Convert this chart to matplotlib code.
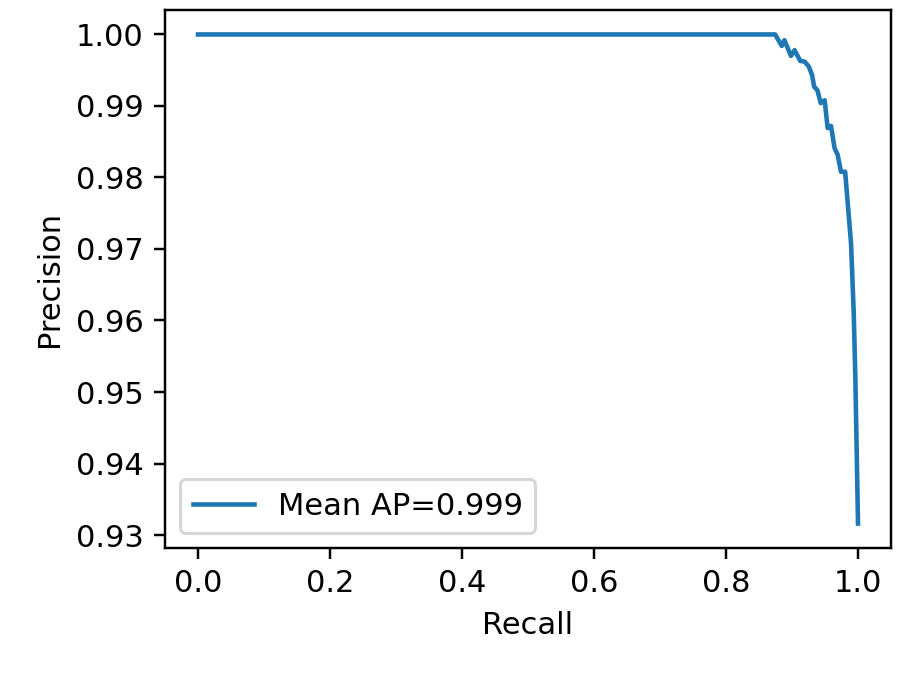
import matplotlib
matplotlib.use("Agg")
import matplotlib.pyplot as plt

# precision-recall curve points
recall = [0.0, 0.874, 0.884, 0.888, 0.898, 0.9035, 0.912, 0.9187, 0.925, 0.930,
          0.933, 0.938, 0.943, 0.949, 0.9535, 0.9586, 0.964, 0.9686, 0.9737,
          0.980, 0.9889, 0.993, 0.9955, 0.9995]
precision = [1.0, 1.0, 0.9984, 0.9992, 0.9970, 0.9978, 0.9963, 0.9962, 0.9955,
             0.9943, 0.9927, 0.9922, 0.9904, 0.9908, 0.9869, 0.9872, 0.9841,
             0.9832, 0.9808, 0.9808, 0.97085, 0.9611, 0.9518, 0.9316]
label = "Mean AP=0.999"

fig = plt.figure(figsize=(4.2, 676 / 220), dpi=220)
plt.subplots_adjust(left=0.1786, right=0.9643, top=0.9852, bottom=0.1893)
plt.plot(recall, precision, label=label)
plt.xlabel("Recall")
plt.ylabel("Precision")
plt.legend(loc="lower left")
plt.savefig("out.png", dpi=220)
